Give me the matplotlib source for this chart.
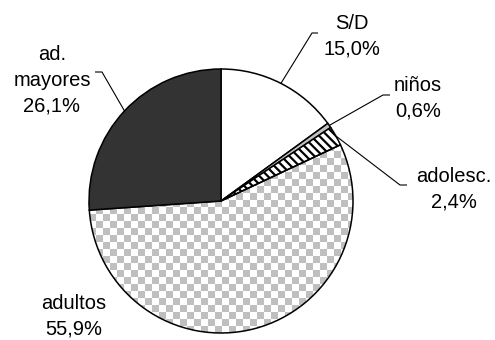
import numpy as np
import matplotlib
matplotlib.use("Agg")
import matplotlib.pyplot as plt

# ---- data ----
categories = ["S/D", "niños", "adolesc.", "adultos", "ad.\nmayores"]
values = [15.0, 0.6, 2.4, 55.9, 26.1]
pct_labels = ["15,0%", "0,6%", "2,4%", "55,9%", "26,1%"]

# ---- layout (pixel coords, y measured from top of image) ----
W, H = 495, 340
CX, CY, R = 221, 201, 132
# last-line baseline positions of each label (x centre, y baseline)
label_pos = [(352, 54.5), (418, 116.5), (454, 207.5), (74, 334.5), (52, 111)]
# leader elbows: (elbow point, end point) or None
leaders = [((312, 33), (318, 33)),
           ((383, 95), (390, 95)),
           ((400, 185), (407, 185)),
           None,
           ((102, 72), (95, 72))]

plt.rcParams['hatch.linewidth'] = 1.6
fig = plt.figure(figsize=(W / 100, H / 100), dpi=100)
ax = fig.add_axes([0, 0, 1, 1])

def Y(y):
    return H - y

colors = ["white", "#c0c0c0", "white", "none", "#333333"]
hatches = [None, None, "\\\\\\\\", None, None]
wedges, _ = ax.pie(values, startangle=90, counterclock=False,
                   center=(CX, Y(CY)), radius=R, colors=colors,
                   wedgeprops=dict(edgecolor="black", linewidth=1.1))
for w, h in zip(wedges, hatches):
    if h:
        w.set_hatch(h)

# checkerboard fill for "adultos"
cell = 7
n = int(np.ceil(2 * R / cell)) + 1
idx = np.add.outer(np.arange(n), np.arange(n)) % 2
img = np.where(idx[..., None] == 0,
               np.array([0.75, 0.75, 0.75]), np.array([1.0, 1.0, 1.0]))
x0, y0 = CX - R, Y(CY) - R
im = ax.imshow(img, extent=(x0, x0 + n * cell, y0, y0 + n * cell),
               interpolation="nearest", zorder=0.5, origin="lower")
im.set_clip_path(wedges[3])

# labels
for cat, pct, (lx, ly) in zip(categories, pct_labels, label_pos):
    ax.text(lx, Y(ly), f"{cat}\n{pct}", ha="center", va="baseline",
            multialignment="center", fontsize=14.5,
            family="Liberation Sans", linespacing=1.42, color="black")

# leader lines from wedge mid-angle on the rim
for w, ld in zip(wedges, leaders):
    if ld is None:
        continue
    th = np.deg2rad((w.theta1 + w.theta2) / 2)
    sx, sy = CX + R * np.cos(th), Y(CY) + R * np.sin(th)
    (ex, ey), (fx, fy) = ld
    ax.plot([sx, ex, fx], [sy, Y(ey), Y(fy)], color="black", lw=0.8,
            solid_capstyle="butt")

ax.set_xlim(0, W)
ax.set_ylim(0, H)
ax.set_aspect("auto")
ax.axis("off")
fig.savefig("out.png", dpi=100)
